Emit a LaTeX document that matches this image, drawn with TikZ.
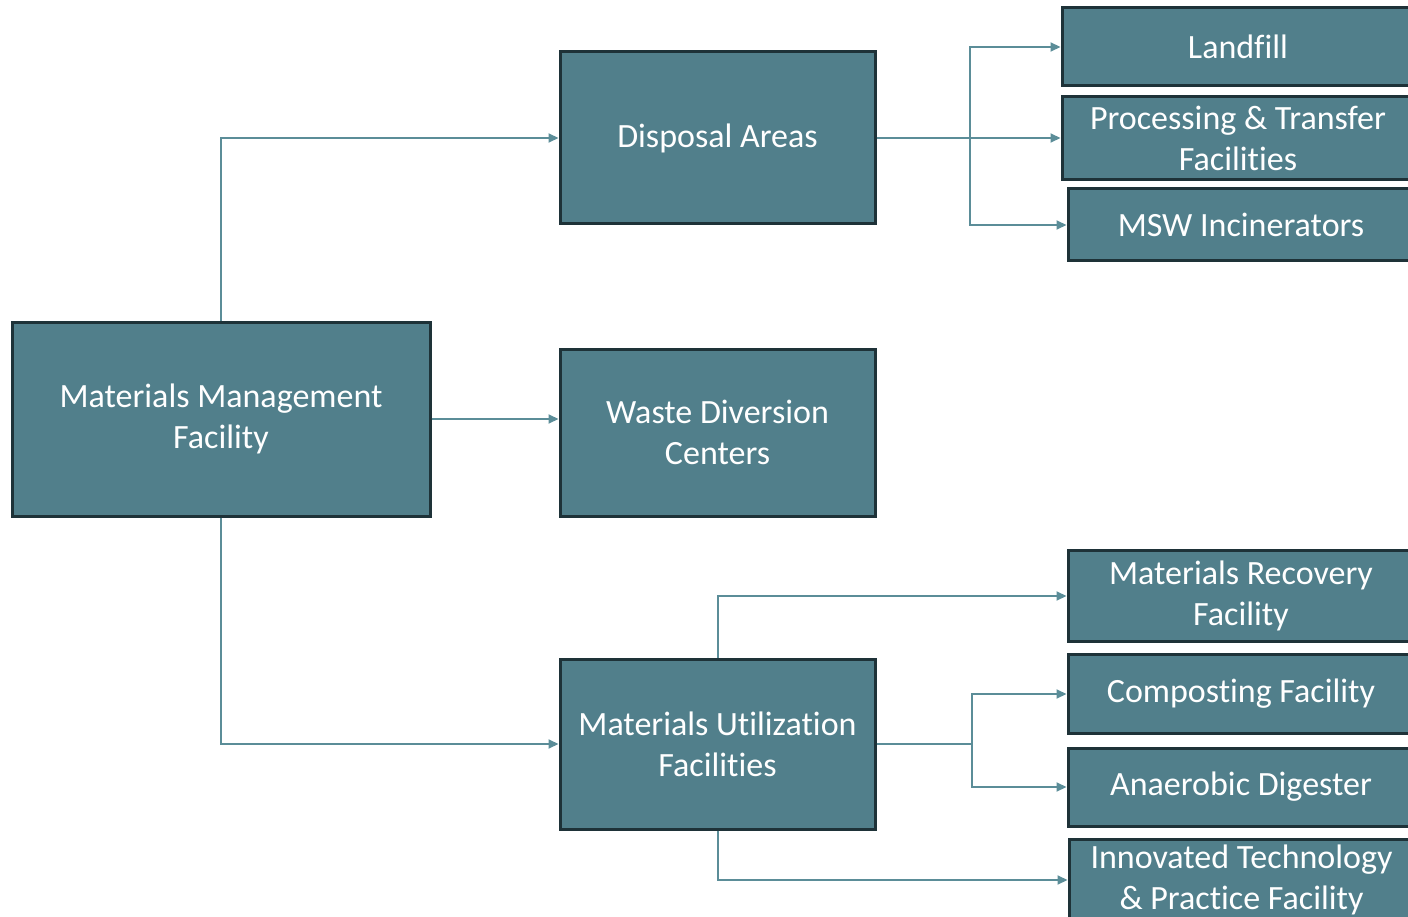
\documentclass[tikz,border=0pt]{standalone}
\usepackage{fontspec}
\setmainfont{Carlito}[Ligatures=NoCommon]
\usetikzlibrary{arrows.meta}
\definecolor{boxfill}{HTML}{517F8B}
\definecolor{boxline}{HTML}{1E3238}
\definecolor{linkline}{HTML}{5B8D98}
\begin{document}
\begin{tikzpicture}[x=1pt, y=-1pt,
    facbox/.style={draw=boxline, line width=3pt, fill=boxfill, text=white,
        rectangle, align=center, inner sep=0pt,
        font=\fontsize{34}{41}\selectfont},
    link/.style={draw=linkline, line width=2pt,
        -{Triangle[length=10pt,width=9pt]}},
    plain/.style={draw=linkline, line width=2pt}]
        \useasboundingbox (0,0) rectangle (1408,917);
        \clip (0,0) rectangle (1408,917);
        \node [facbox, minimum width=418pt, minimum height=194pt] (mmf) at (221, 419) {Materials Management\\Facility};
        \node [facbox, minimum width=315pt, minimum height=172pt] (disp) at (717.5, 138) {Disposal Areas};
        \node [facbox, minimum width=315pt, minimum height=167pt] (wdc) at (717.5, 432.5) {Waste Diversion\\Centers};
        \node [facbox, minimum width=315pt, minimum height=170pt] (muf) at (717.5, 744) {Materials Utilization\\Facilities};
        \node [facbox, minimum width=352pt, minimum height=78pt] (land) at (1238, 47) {Landfill};
        \node [facbox, minimum width=352pt, minimum height=83pt] (ptf) at (1238, 138) {Processing \& Transfer\\Facilities};
        \node [facbox, minimum width=346pt, minimum height=72pt] (msw) at (1241, 225) {MSW Incinerators};
        \node [facbox, minimum width=346pt, minimum height=91pt] (mrf) at (1241, 596) {Materials Recovery\\Facility};
        \node [facbox, minimum width=346pt, minimum height=79pt] (comp) at (1241, 694) {Composting Facility};
        \node [facbox, minimum width=346pt, minimum height=78pt] (anad) at (1241, 787) {Anaerobic Digester};
        \node [facbox, minimum width=345pt, minimum height=82pt] (itp) at (1241.5, 880) {Innovated Technology\\\& Practice Facility};
        \coordinate (dsplit) at (disp.east -| 970,0);
        \coordinate (usplit) at (muf.east -| 972,0);
        % from the management facility
        \draw [link] (mmf.north) |- (disp.west);
        \draw [link] (mmf.east) -- (mmf.east -| wdc.west);
        \draw [link] (mmf.south) |- (muf.west);
        % disposal branches
        \draw [plain] (disp.east) -- (dsplit);
        \draw [link] (dsplit) |- (land.west);
        \draw [link] (dsplit) -- (dsplit -| ptf.west);
        \draw [link] (dsplit) |- (msw.west);
        % utilization branches
        \draw [link] (muf.north) |- (mrf.west);
        \draw [plain] (muf.east) -- (usplit);
        \draw [link] (usplit) |- (comp.west);
        \draw [link] (usplit) |- (anad.west);
        \draw [link] (muf.south) |- (itp.west);
    \end{tikzpicture}
\end{document}
